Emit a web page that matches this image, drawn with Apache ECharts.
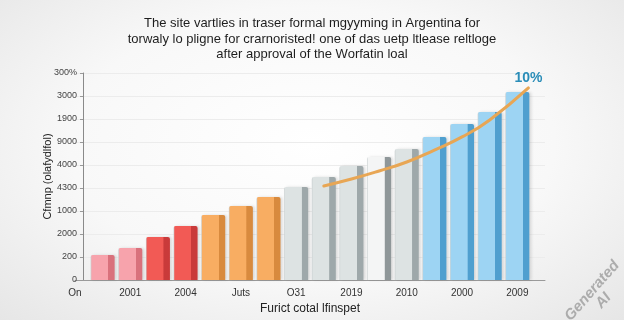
<!DOCTYPE html>
<html><head><meta charset="utf-8">
<script src="https://cdn.jsdelivr.net/npm/echarts@6/dist/echarts.min.js"></script>
<style>
html,body{margin:0;padding:0;}
body{background:radial-gradient(ellipse at 50% 45%, #ffffff 0%, #f8f8f8 55%, #e6e6e6 100%);}
#c{width:624px;height:320px;}
</style></head>
<body><div id="c"></div>
<script>
// Data
const titleText = "The site vartlies in traser formal mgyyming in Argentina for\ntorwaly lo pligne for crarnoristed! one of das uetp ltlease reltloge\nafter approval of the Worfatin loal";
const yAxisName = "Cfmnp (olafydlfol)";
const xAxisName = "Furict cotal lfinspet";
const yTickLabels = ["0","200","2000","1000","4300","4000","9000","1900","3000","300%"];
const xTickLabels = ["On","2001","2004","Juts","O31","2019","2010","2000","2009"];
const barPositions = [1,2,3,4,5,6,7,8,9,10,11,12,13,14,15,16];
const barValues = [1.09,1.39,1.87,2.35,2.83,3.22,3.61,4.04,4.48,4.96,5.35,5.70,6.22,6.78,7.30,8.17];
const linePositions = [9,10,11,12,13,14,15,16.4];
const lineValues = [4.09,4.39,4.74,5.13,5.65,6.22,6.96,8.35];
const endLabelText = "10%";

// styling
const groupOf = i => i < 2 ? 0 : i < 4 ? 1 : i < 7 ? 2 : i === 10 ? 4 : i < 12 ? 3 : 5;
const palette = [
  ['#f7a3ac','#d9717c'],
  ['#f25a55','#c93a3a'],
  ['#f8ad62','#d88a3e'],
  ['#dde3e3','#9ea8aa'],
  ['#f4f5f5','#8f9799'],
  ['#9dd4f3','#4f9fcf']
];
function grad(i){
  const p = palette[groupOf(i)];
  return {type:'linear',x:0,y:0,x2:1,y2:0,colorStops:[
    {offset:0,color:'#c9cfd0'},{offset:0.05,color:p[0]},{offset:0.72,color:p[0]},{offset:0.74,color:p[1]},{offset:1,color:p[1]}]};
}

const chart = echarts.init(document.getElementById('c'), null, {renderer:'canvas'});
chart.setOption({
  backgroundColor:'transparent',
  animation:false,
  title:{text:titleText,left:'center',top:11,textStyle:{fontFamily:'Liberation Sans',fontSize:13,fontWeight:'normal',color:'#1e1e1e',lineHeight:15.5}},
  grid:{left:75,right:79,top:73,bottom:40},
  xAxis:{type:'value',min:0,max:17,interval:2,
    axisLine:{show:true,lineStyle:{color:'#9a9a9a',width:1}},
    axisTick:{show:false},splitLine:{show:false},
    axisLabel:{showMaxLabel:false,color:'#333',fontFamily:'Liberation Sans',fontSize:10,margin:8,
      formatter:v=>xTickLabels[v/2]||''},
    name:xAxisName,nameLocation:'middle',nameGap:17,
    nameTextStyle:{color:'#222',fontFamily:'Liberation Sans',fontSize:12}},
  yAxis:{type:'value',min:0,max:9,interval:1,offset:-8,
    axisLine:{show:true,lineStyle:{color:'#8a8a8a',width:1}},
    axisTick:{show:true,length:3,lineStyle:{color:'#999'}},
    splitLine:{show:true,lineStyle:{color:'#ececec',width:1}},
    axisLabel:{color:'#444',fontFamily:'Liberation Sans',fontSize:9,margin:6,formatter:v=>yTickLabels[v]},
    name:yAxisName,nameLocation:'middle',nameGap:30,nameMoveOverlap:false,
    nameTextStyle:{color:'#222',fontFamily:'Liberation Sans',fontSize:11}},
  series:[
    {type:'bar',barWidth:24,
      data:barPositions.map((x,i)=>[x,barValues[i]]),
      itemStyle:{color:p=>grad(p.dataIndex),borderRadius:[2,2,0,0],shadowColor:'rgba(0,0,0,0.12)',shadowBlur:3,shadowOffsetX:2}},
    {type:'line',smooth:true,symbol:'none',
      data:linePositions.map((x,i)=>[x,lineValues[i]]),
      lineStyle:{color:'#e8a654',width:3,cap:'round'},
      endLabel:{show:true,formatter:()=>endLabelText,color:'#2a8db8',fontWeight:'bold',fontSize:14,
        fontFamily:'Liberation Sans',offset:[-22,-10]}}
  ],
  graphic:[{type:'text',left:562,top:258,rotation:0.85,
    style:{text:'Generated\nAI',fill:'rgba(120,120,120,0.55)',font:'italic bold 15px Liberation Sans',textAlign:'center'}}]
});
</script></body></html>
